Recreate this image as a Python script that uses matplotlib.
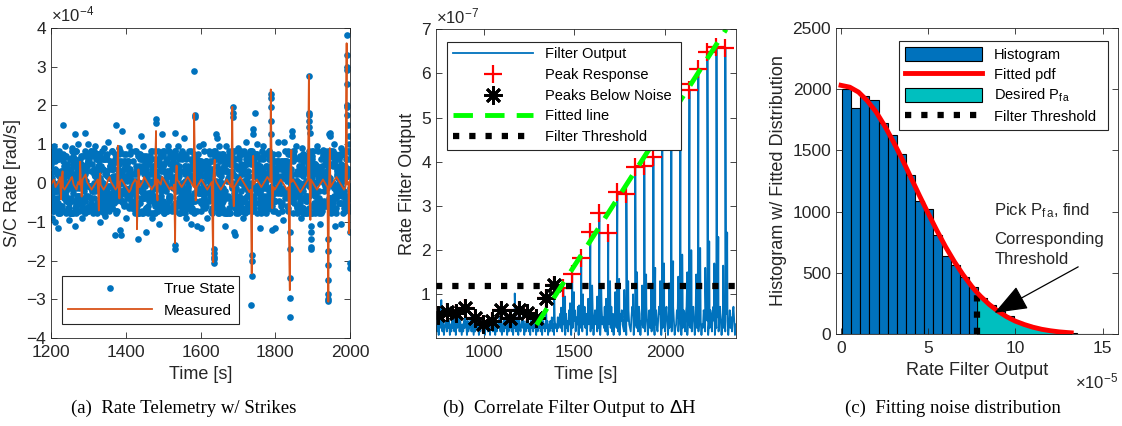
import numpy as np
import matplotlib.pyplot as plt
from matplotlib.lines import Line2D
from matplotlib.patches import Patch

plt.rcParams['font.family'] = ['Liberation Sans', 'DejaVu Sans']
plt.rcParams['mathtext.fontset'] = 'custom'
plt.rcParams['mathtext.rm'] = 'Liberation Sans'
plt.rcParams['mathtext.it'] = 'Liberation Sans:italic'

BLUE = '#0072BD'
ORANGE = '#D95319'
GRAY = '#262626'

# ---------------- (a) rate telemetry, values in 1e-4 rad/s ----------------
# noise cloud of "True State" samples, letters a..z = low..high
cloud_rows = [
    "qmczhxkatrwfndjpybglsevoiuckzamqhxtrwdjfnblygeospvicukzmharxqtwbnjdfyclgepsoviumzkxahrqtbwjdnfclyeg",
    "wbjydglsfpukcxamrzqhtvoienycblwgdsfkuarpmxtzhqvbojekinwycgaldsmfpxurtzqhkbveojiynwcglsadfmpxutrzhq",
    "tdzprkmaufxqcljbvewoigsnyhkdrtamfzpbuclqxjegwnovksithydmrazfcbqluxpjgeowvnkstiyhdmrfazcpbquxljeowg",
    "vxkaqjeznguotlbwrshdcypfogimtkaxvjqzenbuwrlhsdcfypgomitvkaqxjzenbuwlrshcdfypogmiktvaqxjzbenuwlrhsd",
    "pbgnyfckwhmjudratlxezoqivskfnygcmhwdjupltraexzoqivksbgfnyhcmwdjuplratxezqoivsbkgnfyhcwmjdupalrxtez",
    "urljoafwcexzbkqsyhgtnivmpdlaejrowfucxkzbsqhytgnvimdpaljerowfcuzkxbqshygtnmivdplaejrwoufcxzbkqsyhg",
    "kgqcwxeitomlhzsydapfunrjvqckbgxwieotlmhszdyafpnurjqvkcgbwxeiotmlzhysdapfnujrvqkcbgxwieotlmzhsyadp",
    "qmjavhrzobdtxgpencwlkfuiysmqajhvzrbotdgxepcnlwfkiusyqmajvhrzobtdxgpecnwlfkuiysmqjavhzrobdtgxpencw",
    "elrybukmdgofvcxptwjhsazeiqlnyrubmkgdfocvpxwtjhasezqilnryubkmdgfovcxpwtjhsaezqlinrybukmgdofcvxptwj",
    "xfwinqapztchyujdkervmbgosilfxwniqaptzchyujdkremvbgoslxifwnqpazthcyujdkrevmbgsoliwxfnqiapztcyhujdk",
    "hzqbmtwakerxvgdyolcfupnjsihqzmbtawkexrvgydolfcpunjsiqhzbmtwaekxrgvdyloflcupnjsihzqbtmwakerxvgdyolcfp",
    "nsajxbwuektqyrzogmhfcilvdpsnjaxbuwketyqrozgmfhcilvdpnsjaxwbukteqyrzgomhfclivdpnsajbxwuketqyrozgmhfcl",
    "ovyhtlaqdmnfbkgexjrczwpisuovhytlqadmfnbgkexrjczpwisuovyhltaqdmnfkbgexjrczwpsiuoyvhtlaqdmnbfkgejxrczw",
    "fcxripnuzhgayedlkwqbsojmtvfcrxipunzghaeydlwkqsbojtmvfcxrpinuzghyaedklwqbosjmtvcfxripnzuhgayedlkwqbsj",
    "ijwdgsrxaufclzmtehyopbnqkvijdwgsxraufzclmteyhopnbqkvjiwdsgrxuafclmztehoypbqnkvijwdgrsxaufcmlztheyopb",
    "zleqjcgvhnbrwdxmiaktsoyfupzlqejcvghnrbwxdmaitksyofpuzleqcjgvhbnrwdmxiaktoysfupzlejqcgvnhbrwxdmaiktsy",
]
# single samples outside the band and along the strikes
out_t = [1208, 1233, 1238, 1255, 1265, 1272, 1290, 1300, 1318, 1343, 1352, 1375, 1381, 1390,
         1410, 1440, 1447, 1481, 1481, 1496, 1512, 1533, 1540, 1556, 1583, 1585, 1585, 1596,
         1608, 1642, 1643, 1650, 1668, 1686, 1686, 1686, 1700, 1722, 1740, 1741, 1745, 1750,
         1768, 1788, 1788, 1788, 1788, 1789, 1808, 1823, 1845, 1846, 1856, 1872, 1890, 1890,
         1891, 1891, 1891, 1892, 1912, 1928, 1945, 1946, 1947, 1958, 1975, 1991, 1991, 1992,
         1992, 1992, 1992, 1993, 1993, 1994, 1997, 1998,
         1204, 1210, 1220, 1248, 1265, 1284, 1330, 1345, 1370, 1385, 1386, 1400, 1432, 1455,
         1470, 1490, 1532, 1532, 1560, 1575, 1590, 1600, 1618, 1635, 1635, 1635, 1636, 1636,
         1665, 1690, 1691, 1715, 1737, 1737, 1737, 1736, 1760, 1790, 1800, 1820, 1840, 1840,
         1840, 1840, 1840, 1870, 1895, 1895, 1896, 1896, 1896, 1920, 1942, 1942, 1942, 1942,
         1942, 1942, 1942, 1960, 1975, 1999, 2000, 2000]
out_v = [0.95, 1.5, 0.95, 0.9, 1.25, 1.0, 1.3, 1.0, 0.95, 0.9, 1.05, 1.5, 0.9, 1.35,
         0.95, 1.2, 0.95, 1.65, 1.55, 1.25, 0.95, 1.3, 0.95, 1.15, 2.88, 1.75, 1.7, 0.95,
         1.0, 1.25, 1.15, 0.95, 0.95, 1.95, 1.8, 1.7, 0.9, 1.05, 1.4, 1.25, 1.8, 1.0,
         0.95, 2.3, 2.2, 1.95, 1.6, 1.25, 1.05, 1.05, 1.35, 1.2, 0.95, 0.9, 2.75, 1.8,
         1.75, 1.6, 1.45, 1.3, 0.95, 0.85, 1.25, 1.3, 1.2, 1.0, 0.9, 3.8, 3.3, 3.0,
         2.9, 2.55, 2.0, 1.95, 1.75, 1.5, 1.2, 1.0,
         -0.9, -1.0, -1.15, -0.95, -1.1, -0.9, -1.0, -0.85, -1.35, -1.2, -1.35, -0.9, -1.45, -1.25,
         -0.9, -1.05, -1.6, -1.7, -0.9, -1.05, -1.1, -1.15, -0.9, -1.7, -1.8, -1.9, -1.95, -2.05,
         -1.1, -1.25, -1.35, -0.9, -1.85, -2.0, -2.4, -3.15, -1.15, -1.2, -1.15, -0.95, -1.25, -1.7,
         -2.45, -2.95, -3.45, -0.9, -1.1, -1.25, -1.45, -1.65, -1.7, -1.05, -1.45, -1.75, -2.1, -2.5,
         -2.85, -3.0, -3.05, -1.1, -1.05, -1.25, -2.05, -2.2]

# "Measured" baseline wiggle, digits 0..9 = low..high
meas_rows = [
    "4563457632345674325436785432345654323467543234565432124565434576543234565476543232456543456765432345",
    "6543234567543234565432345676543212345654345676543234565432345654321234567654323456543234567654323456",
]
strike_t = [1227, 1278, 1328, 1379, 1430, 1481, 1532, 1583, 1634, 1685, 1737, 1788, 1839, 1890, 1942, 1991]
strike_v = [-0.42, 0.55, -0.71, 0.96, -1.19, 1.34, -1.55, 1.79, -2.04, 1.96, -2.33, 2.41, -2.76, 2.78, -3.06, 3.6]
rebound_t = [1231, 1282, 1332, 1383, 1434, 1485, 1536, 1587, 1638, 1689, 1741, 1792, 1843, 1894, 1946, 1997]
rebound_v = [0.3, -0.35, 0.25, -0.4, 0.35, -0.45, 0.45, -0.45, 0.6, -0.6, 0.7, -0.65, 0.85, -0.95, 0.9, -1.3]

# ---------------- (b) filter output, values in 1e-7 ----------------
filt_base = ("3524163542613452635142536241534625314253641523462531425364152436251435264153426315243562413526341524"
             "362514352641532463514253624153426351425362415342635142536241534263"
             "5738264917352846193758264917385264937158462937158462739158463927518463927158436291758432691758432697"
             "1584362971548362795148362975148326975143862795143862795134862795143862791548362795148362795143862795"
             "14386279514386279514836279514836279514")
below_t = [748, 797, 845, 899, 950, 996, 1048, 1094, 1144, 1193, 1241, 1291, 1343, 1388]
below_v = [0.53, 0.61, 0.58, 0.70, 0.46, 0.33, 0.40, 0.64, 0.46, 0.64, 0.58, 0.46, 0.92, 1.21]
peak_t = [1439, 1488, 1538, 1588, 1638, 1687, 1737, 1787, 1836, 1886, 1936, 1985, 2035, 2085,
          2135, 2184, 2234, 2284, 2333]
peak_v = [1.15, 1.47, 1.83, 2.42, 2.85, 2.38, 3.32, 3.27, 3.89, 3.91, 4.11, 4.55, 4.95, 5.77,
          5.62, 6.09, 6.49, 6.60, 6.57]
after_t = [1449, 1498, 1548, 1598, 1648, 1697, 1747, 1797, 1846, 1896, 1946, 1995, 2045, 2095,
           2145, 2194, 2244, 2294, 2343]
after_v = [0.95, 1.05, 1.0, 1.2, 1.15, 1.3, 1.35, 1.3, 1.5, 1.45, 1.6, 1.7, 1.75, 1.9,
           2.0, 2.05, 2.2, 2.3, 2.4]
before_t = [1427, 1476, 1526, 1576, 1626, 1675, 1725, 1775, 1824, 1874, 1924, 1973, 2023, 2073,
            2123, 2172, 2222, 2272, 2321]
before_v = [0.7, 0.8, 0.75, 0.9, 0.95, 0.9, 1.05, 1.1, 1.0, 1.2, 1.15, 1.3, 1.25, 1.4,
            1.5, 1.45, 1.6, 1.7, 1.65]
extra_t = [766, 1171]
extra_v = [0.87, 1.02]
fit_t = [1291, 2337]
fit_v = [0.31, 7.0]
threshold_b = 1.2

# ---------------- (c) noise histogram, x in 1e-5 ----------------
bin_start = 0.08
bin_width = 0.517
counts = [2000, 1842, 1943, 1910, 1720, 1625, 1473, 1299, 1084, 1024, 812, 639, 565, 470, 383,
          300, 240, 190, 148, 103, 72, 50, 33, 22, 14, 9, 6, 4, 2, 1]
pdf_x = [0, 0.5, 1, 1.5, 2, 2.5, 3, 3.5, 4, 4.5, 5, 5.5, 6, 6.5, 7, 7.5, 7.8, 8, 8.5, 9, 9.5,
         10, 10.5, 11, 11.5, 12, 12.5, 13, 13.2]
pdf_y = [2030, 2015, 1975, 1905, 1815, 1700, 1570, 1430, 1280, 1130, 985, 845, 712, 592, 485,
         390, 340, 310, 243, 188, 143, 107, 80, 58, 41, 29, 20, 14, 12]
threshold_c = 7.8
threshold_c_top = 335

fig = plt.figure(figsize=(11.22, 4.26), dpi=100)
W, H = 1122.0, 426.0


def add_ax(l, r, t, b):
    return fig.add_axes([l / W, 1 - b / H, (r - l) / W, (b - t) / H])


def style(ax):
    ax.tick_params(direction='in', top=True, right=True, length=4, width=0.6,
                   colors=GRAY, labelsize=12.5)
    ax.tick_params(axis='x', pad=5)
    for s in ax.spines.values():
        s.set_color(GRAY)
        s.set_linewidth(0.6)


thr_dash = dict(color='k', lw=4.5, linestyle=(0, (1, 1.6)), dash_capstyle='butt')

# ---- (a)
ax1 = add_ax(51, 350, 27.7, 338.3)
ct, cv = [], []
for j, row in enumerate(cloud_rows):
    vals = np.array([ord(c) - 97 for c in row]) * 0.064 - 0.78
    ct.append(np.linspace(1200, 2000, len(row)) + (j - 7.5) * 0.5)
    cv.append(vals)
ct = np.concatenate(ct + [np.array(out_t, float)])
cv = np.concatenate(cv + [np.array(out_v)])
ax1.plot(ct, cv, 'o', ms=4.8, color=BLUE, mec='none', label='True State')

mv = np.array([int(c) for c in ''.join(meas_rows)]) * 0.065 - 0.3
mt = np.linspace(1200, 2000, len(mv))
mt = np.concatenate([mt, strike_t, rebound_t])
mv = np.concatenate([mv, strike_v, rebound_v])
order = np.argsort(mt, kind='stable')
ax1.plot(mt[order], mv[order], color=ORANGE, lw=1.3, label='Measured')

ax1.set_xlim(1200, 2000)
ax1.set_ylim(-4, 4)
ax1.set_xticks([1200, 1400, 1600, 1800, 2000])
ax1.set_yticks(range(-4, 5))
style(ax1)
ax1.set_xlabel('Time [s]', fontsize=13, color=GRAY)
ax1.set_ylabel('S/C Rate [rad/s]', fontsize=13, color=GRAY)
ax1.text(0.0, 1.01, r'$\times10^{-4}$', transform=ax1.transAxes, fontsize=12,
         color=GRAY, ha='left', va='bottom')
leg = ax1.legend(loc='upper left', bbox_to_anchor=(0.036, 0.043, 0.594, 0.158), mode='expand',
                 fontsize=11, handlelength=5.5, fancybox=False, framealpha=1,
                 edgecolor=GRAY, borderaxespad=0)
leg.get_frame().set_linewidth(0.8)

# ---- (b)
ax2 = add_ax(435.7, 735.7, 29.3, 338.3)
fv = np.array([int(c) for c in filt_base]) * 0.08
ft = np.linspace(735, 2390, len(fv))
ft = np.concatenate([ft, below_t, peak_t, after_t, before_t, extra_t])
fv = np.concatenate([fv, below_v, peak_v, after_v, before_v, extra_v])
order = np.argsort(ft, kind='stable')
ax2.plot(ft[order], fv[order], color=BLUE, lw=1.3, label='Filter Output')
ax2.plot(below_t + peak_t, below_v + peak_v, '+', color='r', ms=13, mew=1.6,
         label='Peak Response', linestyle='none')
ax2.plot(below_t, below_v, marker=(8, 2, 0), color='k', ms=13, mew=2, linestyle='none',
         label='Peaks Below Noise')
ax2.plot(fit_t, fit_v, color='#00FF00', lw=3.5, linestyle=(0, (4, 2.5)), label='Fitted line')
ax2.axhline(threshold_b, label='Filter Threshold', **thr_dash)
ax2.set_xlim(735, 2390)
ax2.set_ylim(0.005, 7)
ax2.set_xticks([1000, 1500, 2000])
ax2.set_yticks(range(1, 8))
style(ax2)
ax2.set_xlabel('Time [s]', fontsize=13, color=GRAY)
ax2.set_ylabel('Rate Filter Output', fontsize=13, color=GRAY)
ax2.text(0.0, 1.01, r'$\times10^{-7}$', transform=ax2.transAxes, fontsize=12,
         color=GRAY, ha='left', va='bottom')
h2, l2 = ax2.get_legend_handles_labels()
leg = ax2.legend(h2, l2, loc='upper left', bbox_to_anchor=(0.037, 0.609, 0.781, 0.351),
                 mode='expand', fontsize=10.5, handlelength=5.5, fancybox=False,
                 framealpha=1, edgecolor=GRAY, borderaxespad=0, labelspacing=0.45)
leg.get_frame().set_linewidth(0.8)

# ---- (c)
ax3 = add_ax(836, 1118.3, 27.7, 334.3)
edges = bin_start + bin_width * np.arange(len(counts))
ax3.bar(edges, counts, width=bin_width, align='edge', color=BLUE, edgecolor='k', lw=0.8)
px = np.array(pdf_x)
py = np.array(pdf_y)
m = px >= threshold_c
ax3.fill_between(px[m], 0, py[m], facecolor='#00BFBF', edgecolor='k', lw=0.8)
ax3.plot([threshold_c, threshold_c], [0, threshold_c_top], **thr_dash)
ax3.plot(px, py, color='r', lw=3.5)
ax3.annotate('', xy=(8.8, 175), xytext=(13.6, 550),
             arrowprops=dict(arrowstyle='-|>,head_length=1.3,head_width=0.5', color='k',
                             lw=0.9, mutation_scale=16, shrinkA=0, shrinkB=0))
ax3.text(8.8, 1010, r'Pick P$_{\mathrm{f\,a}}$, find', fontsize=12, color=GRAY, va='center')
ax3.text(8.8, 775, 'Corresponding', fontsize=12, color=GRAY, va='center')
ax3.text(8.8, 610, 'Threshold', fontsize=12, color=GRAY, va='center')
ax3.set_xlim(-0.29, 15.9)
ax3.set_ylim(0, 2500)
ax3.set_xticks([0, 5, 10, 15])
ax3.set_yticks(range(0, 2501, 500))
style(ax3)
ax3.set_xlabel('Rate Filter Output', fontsize=13, color=GRAY)
ax3.set_ylabel('Histogram w/ Fitted Distribution', fontsize=13, color=GRAY)
ax3.text(1.0, -0.12, r'$\times10^{-5}$', transform=ax3.transAxes, fontsize=12,
         color=GRAY, ha='right', va='top')
h3 = [Patch(facecolor=BLUE, edgecolor='k', lw=0.8),
      Line2D([], [], color='r', lw=3.5),
      Patch(facecolor='#00BFBF', edgecolor='k', lw=0.8),
      Line2D([], [], **thr_dash)]
l3 = ['Histogram', 'Fitted pdf', r'Desired P$_{\mathrm{f\,a}}$', 'Filter Threshold']
leg = ax3.legend(h3, l3, loc='upper left', bbox_to_anchor=(0.224, 0.648, 0.741, 0.309),
                 mode='expand', fontsize=10.5, handlelength=5.3, handleheight=1.1,
                 fancybox=False, framealpha=1, edgecolor=GRAY, borderaxespad=0,
                 labelspacing=0.35)
leg.get_frame().set_linewidth(0.8)

# captions
cap = dict(fontsize=13.5, family='Liberation Serif', ha='center', va='center')
fig.text(184 / W, 1 - 408 / H, '(a)  Rate Telemetry w/ Strikes', **cap)
fig.text(569 / W, 1 - 408 / H, r'(b)  Correlate Filter Output to $\Delta$H', **cap)
fig.text(953 / W, 1 - 408 / H, '(c)  Fitting noise distribution', **cap)

fig.savefig('out.png', dpi=100)
